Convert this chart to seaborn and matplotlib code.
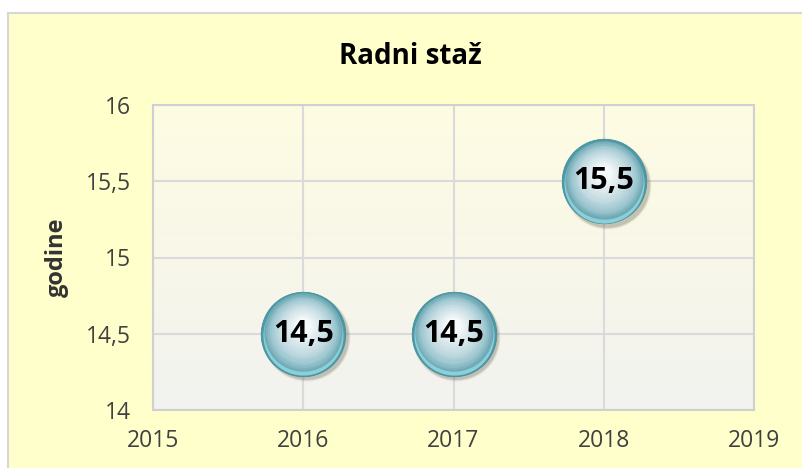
import numpy as np
import pandas as pd
import matplotlib.pyplot as plt
import matplotlib.transforms as mtransforms
from matplotlib.patches import Rectangle
import seaborn as sns

years = [2016, 2017, 2018]
staz = [14.5, 14.5, 15.5]
x_ticks = [2015, 2016, 2017, 2018, 2019]
y_ticks = [14, 14.5, 15, 15.5, 16]

df = pd.DataFrame({"godina": years, "staz": staz})

sns.set_style("white")
plt.rcParams['font.family'] = ['Open Sans', 'DejaVu Sans']

fig = plt.figure(figsize=(8.03, 4.68), dpi=100)
fig.patch.set_facecolor('white')
fig.patches.append(Rectangle((8 / 803, -0.1), 1.2, 1 - 13 / 468 + 0.1,
                             transform=fig.transFigure, facecolor='#FFFFCC',
                             edgecolor='#D6D6D6', linewidth=1.5, zorder=-10))

ax = fig.add_axes([153 / 803, 1 - 410 / 468, 601 / 803, 305 / 468])

# plot area gradient: pale yellow at top to light grey at bottom
top = np.array([0xFE, 0xFC, 0xE2]) / 255
bot = np.array([0xF2, 0xF2, 0xF0]) / 255
t = np.linspace(0, 1, 256)[:, None]
grad = (top * (1 - t) + bot * t)[:, None, :]
ax.imshow(grad, extent=[0, 1, 0, 1], transform=ax.transAxes, aspect='auto', zorder=0)

ax.set_xlim(2015, 2019)
ax.set_ylim(14, 16)
ax.set_xticks(x_ticks)
ax.set_yticks(y_ticks)
ax.set_yticklabels([f"{v:g}".replace('.', ',') for v in y_ticks])
ax.grid(True, color='#DADADA', linewidth=1.5, zorder=1)
ax.set_axisbelow(True)
for s in ax.spines.values():
    s.set_color('#D0D0D0')
    s.set_linewidth(1.5)
ax.tick_params(length=0, labelsize=16.5, labelcolor='#404040')
ax.tick_params(axis='y', pad=16)
ax.tick_params(axis='x', pad=14)

# bubble: soft shadow, teal rim, cyan bottom reflection, lighter layers up to a highlight
base = 3700
for k, a in [(1.08, 0.10), (1.04, 0.15), (1.0, 0.2)]:
    shadow = mtransforms.offset_copy(ax.transData, fig=fig, x=2, y=-2.5, units='points')
    ax.scatter(df["godina"], df["staz"], s=base * k, color='#707060', alpha=a,
               linewidths=0, transform=shadow, zorder=2)
sns.scatterplot(data=df, x="godina", y="staz", s=base, color='#4F98A5',
                edgecolor='#43909D', linewidth=0.6, ax=ax, zorder=3, legend=False)
refl = mtransforms.offset_copy(ax.transData, fig=fig, x=0, y=-1.2, units='points')
ax.scatter(df["godina"], df["staz"], s=base * 0.9, color='#8ACFD9',
           linewidths=0, transform=refl, zorder=3.005)

stops = [(0.0, '#6FAAB5'), (0.18, '#9CC6CF'), (0.45, '#C3DBE1'), (0.8, '#E3EEF1'), (1.0, '#F5FAFB')]
pos = np.array([p for p, _ in stops])
cols = np.array([[int(h[i:i + 2], 16) / 255 for i in (1, 3, 5)] for _, h in stops])
n = 18
for i in range(n):
    f = i / (n - 1)
    c = [np.interp(f, pos, cols[:, j]) for j in range(3)]
    off = mtransforms.offset_copy(ax.transData, fig=fig, x=-0.5 * f, y=1.0 + 5 * f, units='points')
    ax.scatter(df["godina"], df["staz"], s=base * 0.86 * (1 - 0.8 * f) ** 2,
               color=c, linewidths=0, transform=off, zorder=3.01 + i * 0.001)

for xv, yv in zip(years, staz):
    ax.text(xv, yv, f"{yv:g}".replace('.', ','), ha='center', va='center',
            fontsize=22, fontweight='bold', color='black', zorder=5)

ax.set_xlabel('')
ax.set_ylabel('godine', fontsize=17, fontweight='bold', color='#333333', labelpad=12)
fig.text(0.511, 1 - 57 / 468, 'Radni staž', ha='center', va='center',
         fontsize=20, fontweight='bold', color='black')

fig.savefig('out.png', dpi=100)
